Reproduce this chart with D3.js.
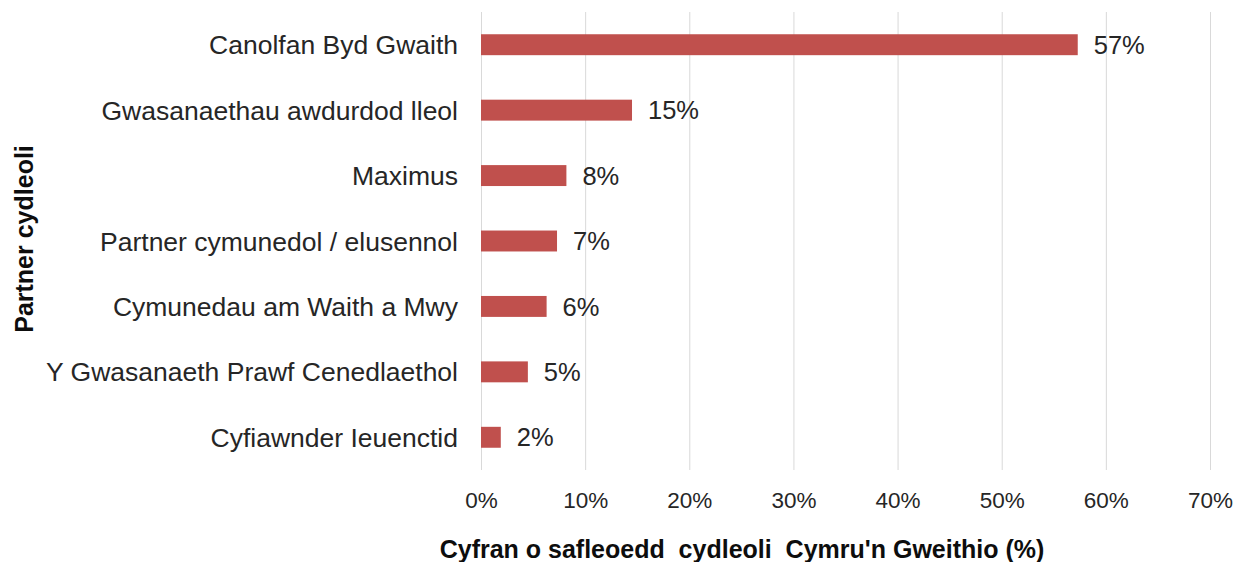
<!DOCTYPE html>
<html>
<head>
<meta charset="utf-8">
<script src="https://cdn.jsdelivr.net/npm/d3@7"></script>
<style>
  body { margin: 0; background: #fff; }
  svg text { font-family: "Liberation Sans", Arial, sans-serif; }
  .grid line { stroke: #d9d9d9; stroke-width: 1; }
  .grid path { display: none; }
</style>
</head>
<body>
<div id="chart"></div>
<script>
// Data
//________________________________________________________________________________
var categories = [
    "Canolfan Byd Gwaith",
    "Gwasanaethau awdurdod lleol",
    "Maximus",
    "Partner cymunedol / elusennol",
    "Cymunedau am Waith a Mwy",
    "Y Gwasanaeth Prawf Cenedlaethol",
    "Cyfiawnder Ieuenctid"
];
var values = [57.3, 14.5, 8.2, 7.3, 6.3, 4.5, 1.9];
var valueLabels = ["57%", "15%", "8%", "7%", "6%", "5%", "2%"];
var xTicks = [0, 10, 20, 30, 40, 50, 60, 70];

var xTitle = "Cyfran o safleoedd  cydleoli  Cymru'n Gweithio (%)";
var yTitle = "Partner cydleoli";

// Layout
//________________________________________________________________________________
var W = 1239, H = 562;
var margin = {top: 12, right: 29, bottom: 92, left: 481};
var width = W - margin.left - margin.right;
var height = H - margin.top - margin.bottom;

var svg = d3.select("#chart").append("svg")
    .attr("width", W)
    .attr("height", H);

var g = svg.append("g")
    .attr("transform", "translate(" + margin.left + "," + margin.top + ")");

// Scales
var x = d3.scaleLinear().domain([0, 70]).range([0, width]);
var y = d3.scaleBand().domain(categories).range([0, height]).paddingInner(0.68).paddingOuter(0.34);

// X Grid
g.append("g")
    .attr("class", "grid")
    .call(d3.axisBottom(x).tickValues(xTicks).tickSize(height).tickFormat(""));

// Bars
g.selectAll("rect.bar")
    .data(values)
    .enter().append("rect")
    .attr("class", "bar")
    .attr("x", x(0))
    .attr("y", function(d, i) { return y(categories[i]); })
    .attr("width", function(d) { return x(d) - x(0); })
    .attr("height", y.bandwidth())
    .attr("fill", "#c0504d");

// Value labels
g.selectAll("text.val")
    .data(values)
    .enter().append("text")
    .attr("class", "val")
    .attr("x", function(d) { return x(d) + 16; })
    .attr("y", function(d, i) { return y(categories[i]) + y.bandwidth() / 2; })
    .attr("dy", "0.36em")
    .attr("font-size", 25.5)
    .attr("fill", "#262626")
    .text(function(d, i) { return valueLabels[i]; });

// Category labels (Y axis)
var yAxis = g.append("g")
    .call(d3.axisLeft(y).tickSize(0).tickPadding(23));
yAxis.select(".domain").remove();
yAxis.selectAll("text")
    .attr("font-size", 26.5)
    .attr("fill", "#262626")
    .attr("dy", "0.36em");

// X tick labels
var xAxis = g.append("g")
    .attr("transform", "translate(0," + height + ")")
    .call(d3.axisBottom(x).tickValues(xTicks).tickSize(0).tickPadding(22)
        .tickFormat(function(d) { return d + "%"; }));
xAxis.select(".domain").remove();
xAxis.selectAll("text")
    .attr("font-size", 22.5)
    .attr("fill", "#262626");

// Axis titles
svg.append("text")
    .attr("x", 742)
    .attr("y", 558)
    .attr("text-anchor", "middle")
    .attr("font-size", 25)
    .attr("font-weight", "bold")
    .attr("fill", "#0d0d0d")
    .style("white-space", "pre")
    .text(xTitle);

svg.append("text")
    .attr("transform", "translate(33,239) rotate(-90)")
    .attr("text-anchor", "middle")
    .attr("font-size", 25)
    .attr("font-weight", "bold")
    .attr("fill", "#0d0d0d")
    .text(yTitle);
</script>
</body>
</html>
